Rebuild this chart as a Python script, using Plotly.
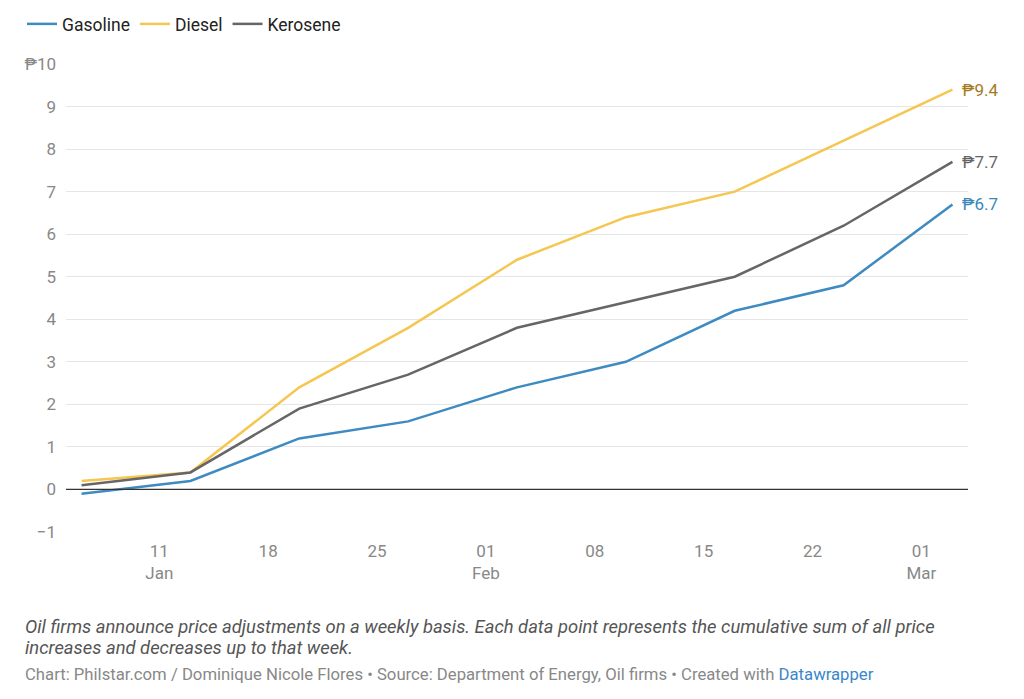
import plotly.graph_objects as go

dates = ["2021-01-06", "2021-01-13", "2021-01-20", "2021-01-27", "2021-02-03",
         "2021-02-10", "2021-02-17", "2021-02-24", "2021-03-03"]
gasoline = [-0.1, 0.2, 1.2, 1.6, 2.4, 3.0, 4.2, 4.8, 6.7]
diesel = [0.2, 0.4, 2.4, 3.8, 5.4, 6.4, 7.0, 8.2, 9.4]
kerosene = [0.1, 0.4, 1.9, 2.7, 3.8, 4.4, 5.0, 6.2, 7.7]

series = [
    ("Gasoline", gasoline, "#3f8bc1", "#3a87b9"),
    ("Diesel", diesel, "#f5c650", "#a57b1f"),
    ("Kerosene", kerosene, "#666666", "#666666"),
]

x_tickvals = ["2021-01-11", "2021-01-18", "2021-01-25", "2021-02-01", "2021-02-08",
              "2021-02-15", "2021-02-22", "2021-03-01"]
x_ticktext = ["11<br>Jan", "18", "25", "01<br>Feb", "08", "15", "22", "01<br>Mar"]
y_tickvals = [-1, 0, 1, 2, 3, 4, 5, 6, 7, 8, 9, 10]
y_ticktext = ["−1", "0", "1", "2", "3", "4", "5", "6", "7", "8", "9", "₱10"]

caption1 = "Oil firms announce price adjustments on a weekly basis. Each data point represents the cumulative sum of all price"
caption2 = "increases and decreases up to that week."
source = ("Chart: Philstar.com / Dominique Nicole Flores • Source: Department of Energy, Oil firms • "
          "Created with <span style='color:#3a87c8'>Datawrapper</span>")

fig = go.Figure()
for name, vals, color, lcolor in series:
    fig.add_trace(go.Scatter(x=dates, y=vals, name=name, mode="lines",
                             line=dict(color=color, width=2.5),
                             hoverinfo="skip", cliponaxis=False))
    fig.add_annotation(x=dates[-1], y=vals[-1], text=f"₱{vals[-1]}",
                       showarrow=False, xanchor="left", xshift=8,
                       font=dict(size=17, color=lcolor, family="Roboto"))

fig.add_hline(y=0, line=dict(color="#333333", width=1.3), layer="above")

W, H = 1024, 699
L, R, T, B = 66, 56, 63, 167
ph = H - T - B
pw = W - L - R

def py(Y):
    return (H - B - Y) / ph

def px(X):
    return (X - L) / pw

fig.update_layout(
    width=W, height=H,
    margin=dict(l=L, r=R, t=T, b=B),
    paper_bgcolor="white", plot_bgcolor="white",
    font=dict(family="Roboto", color="#888888", size=17),
    showlegend=True,
    legend=dict(orientation="h", x=px(22), xref="paper", y=1 - 6 / H, yref="container",
                xanchor="left", yanchor="top", itemwidth=30,
                font=dict(size=17.5, color="#222222", family="Roboto"),
                bgcolor="rgba(0,0,0,0)"),
    xaxis=dict(range=["2021-01-05", "2021-03-04"], tickvals=x_tickvals,
               ticktext=x_ticktext, showgrid=False, zeroline=False,
               showline=False, ticks="", ticklabelstandoff=7,
               tickfont=dict(size=17, color="#888888")),
    yaxis=dict(range=[-1, 10], tickvals=y_tickvals, ticktext=y_ticktext,
               showgrid=True, gridcolor="#e6e6e6", gridwidth=1, zeroline=False,
               showline=False, ticks="", ticklabelstandoff=9,
               tickfont=dict(size=17, color="#888888")),
)

for txt, Y in [(caption1, 627), (caption2, 648)]:
    fig.add_annotation(
        xref="paper", yref="paper", x=px(23), y=py(Y), xanchor="left", yanchor="middle",
        align="left", showarrow=False, text=f"<i>{txt}</i>",
        font=dict(size=18.4, color="#555555", family="Roboto"))
fig.add_annotation(
    xref="paper", yref="paper", x=px(23), y=py(675), xanchor="left", yanchor="middle",
    align="left", showarrow=False, text=source,
    font=dict(size=16.7, color="#888888", family="Roboto"))

fig.write_html("out.html", config={"displayModeBar": False},
               post_script="document.body.style.margin='0px';")
